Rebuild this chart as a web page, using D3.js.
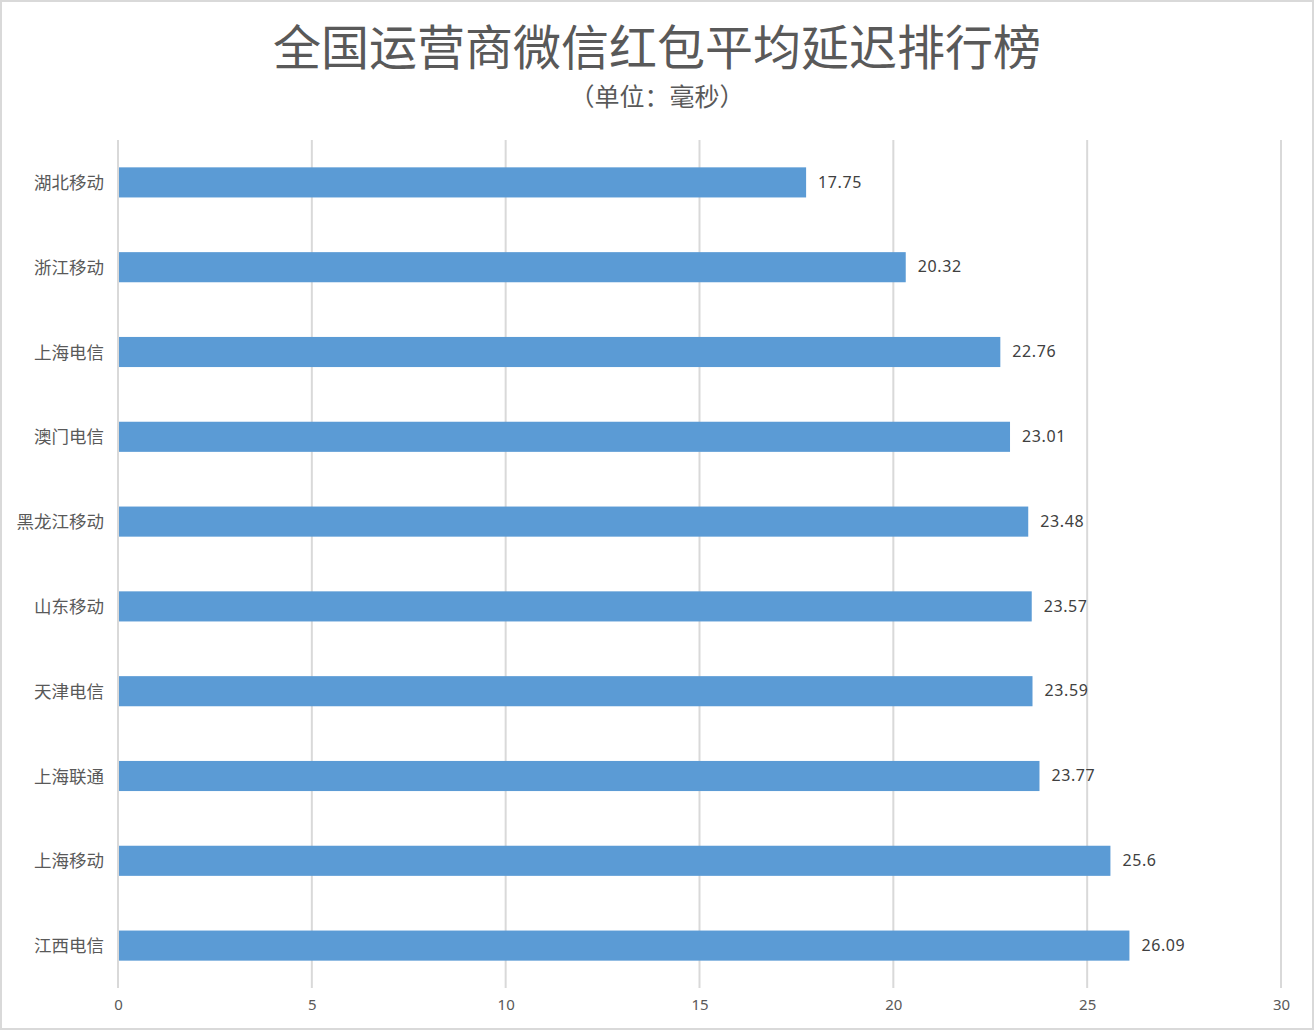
<!DOCTYPE html>
<html>
<head>
<meta charset="utf-8">
<script src="https://cdn.jsdelivr.net/npm/d3@7"></script>
<style>
  html, body { margin: 0; padding: 0; background: #fff; }
  svg { display: block; font-family: "Noto Sans CJK SC", "Noto Sans", sans-serif; }
</style>
</head>
<body>
<svg id="chart" width="1314" height="1030"></svg>
<script>
var carriers = ['湖北移动','浙江移动','上海电信','澳门电信','黑龙江移动','山东移动','天津电信','上海联通','上海移动','江西电信'];
var delays = [17.75, 20.32, 22.76, 23.01, 23.48, 23.57, 23.59, 23.77, 25.6, 26.09];
var delayLabels = ['17.75','20.32','22.76','23.01','23.48','23.57','23.59','23.77','25.6','26.09'];
var xTicks = [0, 5, 10, 15, 20, 25, 30];

var width = 1314, height = 1030;
var margin = {top: 140, right: 33, bottom: 42, left: 118};

var svg = d3.select('#chart');

// outer frame
svg.append('rect')
	.attr('x', 1).attr('y', 1)
	.attr('width', width - 2).attr('height', height - 2)
	.style('fill', '#fff')
	.style('stroke', '#d9d9d9')
	.style('stroke-width', 2);

svg.append('text')
	.text('全国运营商微信红包平均延迟排行榜')
	.attr('x', 657).attr('y', 65)
	.style('text-anchor', 'middle')
	.style('font-size', '48px')
	.style('fill', '#595959');

svg.append('text')
	.text('（单位：毫秒）')
	.attr('x', 657).attr('y', 106)
	.style('text-anchor', 'middle')
	.style('font-size', '25px')
	.style('fill', '#595959');

var x = d3.scaleLinear()
	.domain([0, 30])
	.range([margin.left, width - margin.right]);

var y = d3.scaleBand()
	.domain(carriers)
	.range([margin.top, height - margin.bottom])
	.paddingInner(0.645)
	.paddingOuter(0.3225);

// gridlines
svg.append('g').attr('class', 'grid')
	.selectAll('line')
	.data(xTicks)
	.enter()
	.append('line')
	.attr('x1', function(d){ return x(d); })
	.attr('x2', function(d){ return x(d); })
	.attr('y1', margin.top)
	.attr('y2', height - margin.bottom)
	.style('stroke', '#d9d9d9')
	.style('stroke-width', 2);

// x tick labels
var xAxis = d3.axisBottom(x).tickValues(xTicks).tickSize(0).tickPadding(0);
var gx = svg.append('g')
	.attr('transform', 'translate(0,' + (height - margin.bottom + 11) + ')')
	.call(xAxis);
gx.select('.domain').remove();
gx.selectAll('text')
	.style('font-size', '15px')
	.style('fill', '#595959')
	.style('font-family', '"Noto Sans", sans-serif');

// y category labels
var yAxis = d3.axisLeft(y).tickSize(0).tickPadding(14);
var gy = svg.append('g')
	.attr('transform', 'translate(' + margin.left + ',1)')
	.call(yAxis);
gy.select('.domain').remove();
gy.selectAll('text')
	.style('font-size', '17.5px')
	.style('fill', '#595959')
	.style('font-family', '"Noto Sans CJK SC", sans-serif');

var rows = carriers.map(function(c, i){ return {name: c, value: delays[i], label: delayLabels[i]}; });

svg.append('g').attr('class', 'bars')
	.selectAll('rect')
	.data(rows)
	.enter()
	.append('rect')
	.attr('x', x(0) + 1)
	.attr('y', function(d){ return y(d.name); })
	.attr('width', function(d){ return x(d.value) - x(0) - 1; })
	.attr('height', y.bandwidth())
	.style('fill', '#5b9bd5');

svg.append('g').attr('class', 'labels')
	.selectAll('text')
	.data(rows)
	.enter()
	.append('text')
	.text(function(d){ return d.label; })
	.attr('x', function(d){ return x(d.value) + 12; })
	.attr('y', function(d){ return y(d.name) + y.bandwidth() / 2 + 1; })
	.style('dominant-baseline', 'middle')
	.style('font-size', '16px')
	.style('letter-spacing', '0.6px')
	.style('fill', '#404040')
	.style('font-family', '"Noto Sans", sans-serif');
</script>
</body>
</html>
